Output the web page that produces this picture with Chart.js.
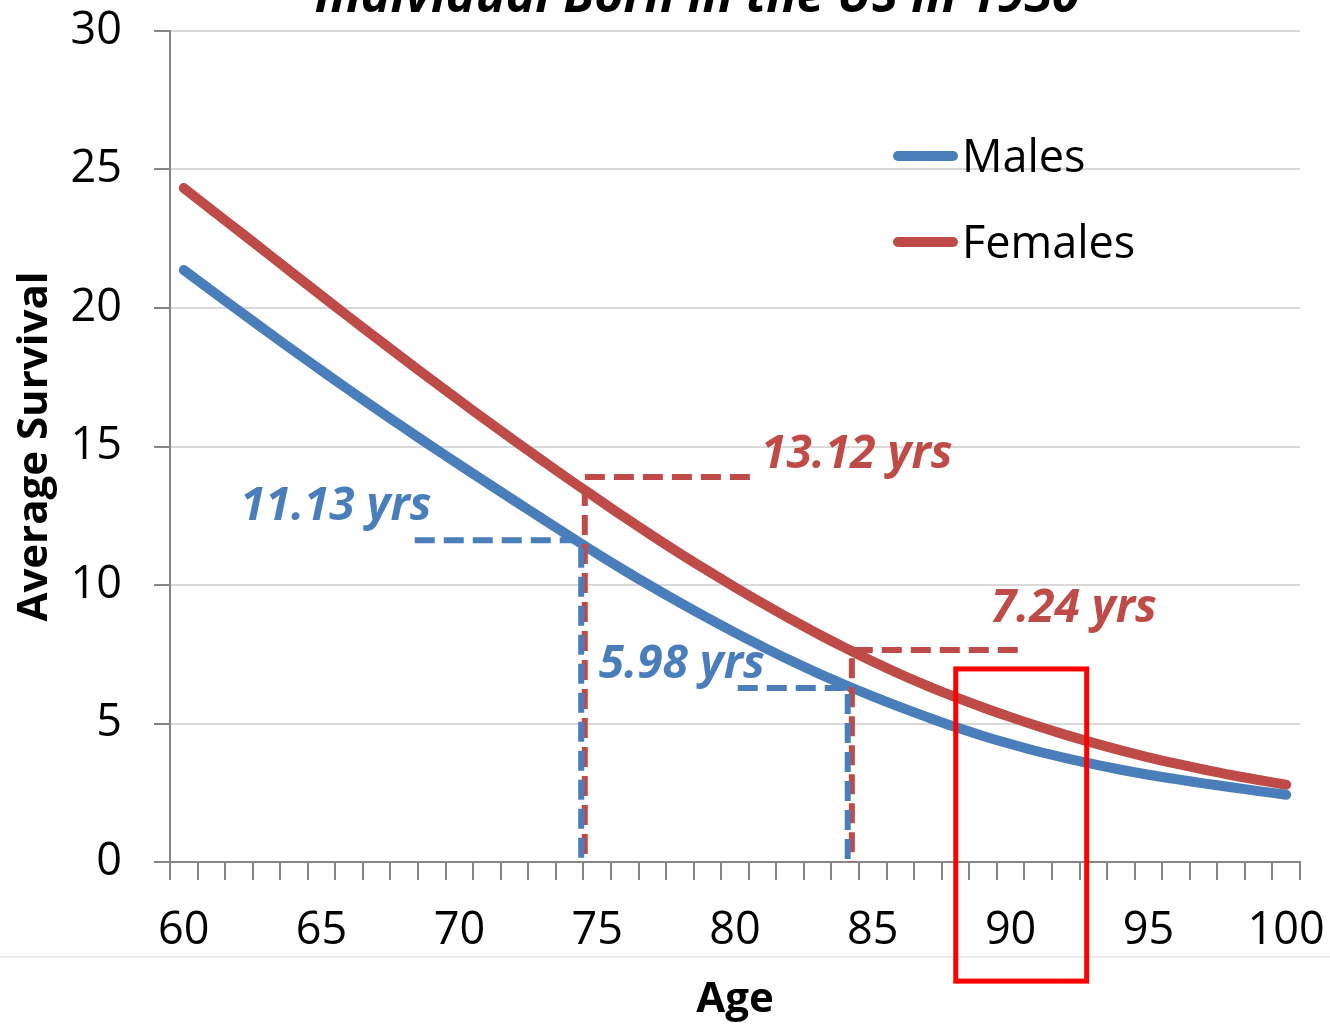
<!DOCTYPE html>
<html>
<head>
<meta charset="utf-8">
<title>Average Survival</title>
<script src="https://cdn.jsdelivr.net/npm/chart.js@4.4.1/dist/chart.umd.min.js"></script>
<style>
  body { margin: 0; background: #fff; }
  #wrap { width: 1330px; height: 1026px; }
</style>
</head>
<body>
<div id="wrap"><canvas id="survivalChart" width="1330" height="1026"></canvas></div>
<script>
// --- Data ---
const ages = ['60','61','62','63','64','65','66','67','68','69','70','71','72','73','74','75','76','77','78','79','80',
  '81','82','83','84','85','86','87','88','89','90','91','92','93','94','95','96','97','98','99','100'];

const maleSurvival = [21.37, 20.63, 19.90, 19.17, 18.45, 17.74, 17.04, 16.35, 15.67, 15.00, 14.34,
  13.69, 13.04, 12.40, 11.76, 11.13, 10.52, 9.93, 9.36, 8.81, 8.28,
  7.77, 7.28, 6.82, 6.39, 5.98, 5.59, 5.22, 4.87, 4.55, 4.26,
  3.99, 3.75, 3.53, 3.33, 3.15, 2.99, 2.84, 2.70, 2.56, 2.43];

const femaleSurvival = [24.33, 23.55, 22.78, 22.00, 21.22, 20.44, 19.67, 18.91, 18.15, 17.40, 16.66,
  15.93, 15.21, 14.50, 13.80, 13.12, 12.44, 11.78, 11.14, 10.52, 9.92,
  9.34, 8.78, 8.24, 7.73, 7.24, 6.78, 6.35, 5.95, 5.58, 5.23,
  4.90, 4.59, 4.30, 4.03, 3.78, 3.55, 3.34, 3.14, 2.96, 2.79];

const xTickLabels = ['60', '65', '70', '75', '80', '85', '90', '95', '100'];
const yTicks = [0, 5, 10, 15, 20, 25, 30];

// dashed guide lines (age where drawn, level, and where the horizontal part stops)
const maleGuideAge = [74.42, 84.09];
const maleGuideLevel = [11.62, 6.28];
const maleGuideFrom = [68.38, 80.10];
const femaleGuideAge = [74.55, 84.24];
const femaleGuideLevel = [13.90, 7.65];
const femaleGuideTo = [80.54, 90.26];

// callout texts
const calloutText = ['11.13 yrs', '5.98 yrs', '13.12 yrs', '7.24 yrs'];
const calloutSex = ['M', 'M', 'F', 'F'];
const calloutAge = [65.52, 78.07, 84.42, 92.29];
const calloutLevel = [12.82, 7.11, 14.69, 9.13];

// red highlight box around age 90
const boxAges = [88.01, 92.76];
const boxLevels = [6.97, -4.30];

const BLUE = '#4A7EBB';
const RED = '#BE4B48';
const AXIS = '#868686';
const FONT = "'Open Sans', sans-serif";

Chart.defaults.font.family = FONT;
Chart.defaults.color = '#000';

function guideDataset(color, age, level, end) {
  return {
    label: '',
    xAxisID: 'x2',
    data: [{ x: end, y: level }, { x: age, y: level }, { x: age, y: 0 }],
    borderColor: color,
    borderWidth: 6,
    borderDash: [20, 9],
    pointRadius: 0,
    tension: 0,
    guide: true
  };
}

const datasets = [
  { label: 'Males', data: maleSurvival, borderColor: BLUE, backgroundColor: BLUE },
  { label: 'Females', data: femaleSurvival, borderColor: RED, backgroundColor: RED }
].map(d => Object.assign(d, {
  borderWidth: 10, pointRadius: 0, tension: 0.4,
  borderCapStyle: 'round', borderJoinStyle: 'round', order: 1
}));

for (let i = 0; i < maleGuideAge.length; i++) {
  datasets.push(guideDataset(BLUE, maleGuideAge[i], maleGuideLevel[i], maleGuideFrom[i]));
  datasets.push(guideDataset(RED, femaleGuideAge[i], femaleGuideLevel[i], femaleGuideTo[i]));
}

// keep the plot box where the original had it (no auto padding for labels)
function noPad(s) {
  s.paddingTop = 0;
  s.paddingBottom = 0;
  s.paddingLeft = 0;
  s.paddingRight = 0;
}

// --- Extra drawing: title, legend, callouts, highlight box ---
const extras = {
  id: 'extras',
  afterDraw(chart) {
    const ctx = chart.ctx;
    const area = chart.chartArea;
    const xs = chart.scales.x2;
    const ys = chart.scales.y;
    ctx.save();

    // faint frame line under the axis labels
    ctx.strokeStyle = '#ececec';
    ctx.lineWidth = 2;
    ctx.beginPath();
    ctx.moveTo(0, 957);
    ctx.lineTo(chart.width, 957);
    ctx.stroke();

    // title (top part cut off)
    ctx.fillStyle = '#000';
    ctx.font = 'italic bold 50px ' + FONT;
    ctx.textAlign = 'center';
    ctx.textBaseline = 'alphabetic';
    ctx.fillText('Individual Born in the US in 1930', (area.left + area.right) / 2 - 38, 12);

    // legend
    const mains = chart.data.datasets.filter(d => !d.guide);
    ctx.font = '45px ' + FONT;
    ctx.textAlign = 'left';
    mains.forEach((d, i) => {
      const y = 156 + i * 86;
      ctx.strokeStyle = d.borderColor;
      ctx.lineWidth = 10;
      ctx.lineCap = 'round';
      ctx.beginPath();
      ctx.moveTo(area.right - 402, y);
      ctx.lineTo(area.right - 347, y);
      ctx.stroke();
      ctx.fillStyle = '#000';
      ctx.fillText(d.label, area.right - 338, y + 16);
    });

    // callouts
    ctx.font = 'italic bold 46px ' + FONT;
    ctx.textAlign = 'center';
    ctx.textBaseline = 'middle';
    calloutText.forEach((t, i) => {
      ctx.fillStyle = calloutSex[i] === 'M' ? BLUE : RED;
      ctx.fillText(t, xs.getPixelForValue(calloutAge[i]), ys.getPixelForValue(calloutLevel[i]));
    });

    // highlight box
    const bx0 = xs.getPixelForValue(boxAges[0]);
    const bx1 = xs.getPixelForValue(boxAges[1]);
    const by0 = ys.getPixelForValue(boxLevels[0]);
    const by1 = ys.getPixelForValue(boxLevels[1]);
    ctx.strokeStyle = '#FF0000';
    ctx.lineWidth = 5;
    ctx.lineCap = 'butt';
    ctx.strokeRect(bx0, by0, bx1 - bx0, by1 - by0);

    ctx.restore();
  }
};

const ctx = document.getElementById('survivalChart').getContext('2d');
new Chart(ctx, {
  type: 'line',
  data: { labels: ages, datasets: datasets },
  plugins: [extras],
  options: {
    responsive: false,
    animation: false,
    events: [],
    layout: { padding: { left: 0, right: 30, top: 31, bottom: 0 } },
    plugins: { legend: { display: false }, tooltip: { enabled: false } },
    scales: {
      x: {
        type: 'category',
        offset: true,
        afterFit: s => { s.height = 164; noPad(s); },
        grid: { offset: true, drawOnChartArea: false, tickLength: 18, color: AXIS, lineWidth: 2 },
        border: { color: AXIS, width: 2 },
        ticks: {
          autoSkip: false,
          maxRotation: 0,
          padding: 24,
          font: { size: 45 },
          color: '#000',
          callback: function (v) {
            const l = this.getLabelForValue(v);
            return xTickLabels.includes(l) ? l : '';
          }
        },
        title: { display: true, text: 'Age', font: { size: 42, weight: 'bold' }, color: '#000', padding: { top: 0, bottom: 1 } }
      },
      x2: { type: 'linear', display: false, min: 59.5, max: 100.5 },
      y: {
        min: 0,
        max: 30,
        afterFit: s => { s.width = 170; noPad(s); },
        afterBuildTicks: s => { s.ticks = yTicks.map(v => ({ value: v })); },
        grid: { color: '#d9d9d9', lineWidth: 2, tickLength: 16, tickColor: AXIS },
        border: { color: AXIS, width: 2 },
        ticks: { padding: 32, font: { size: 45 }, color: '#000' },
        title: { display: true, text: 'Average Survival', font: { size: 42, weight: 'bold' }, color: '#000', padding: { top: 10 } }
      }
    }
  }
});
</script>
</body>
</html>
